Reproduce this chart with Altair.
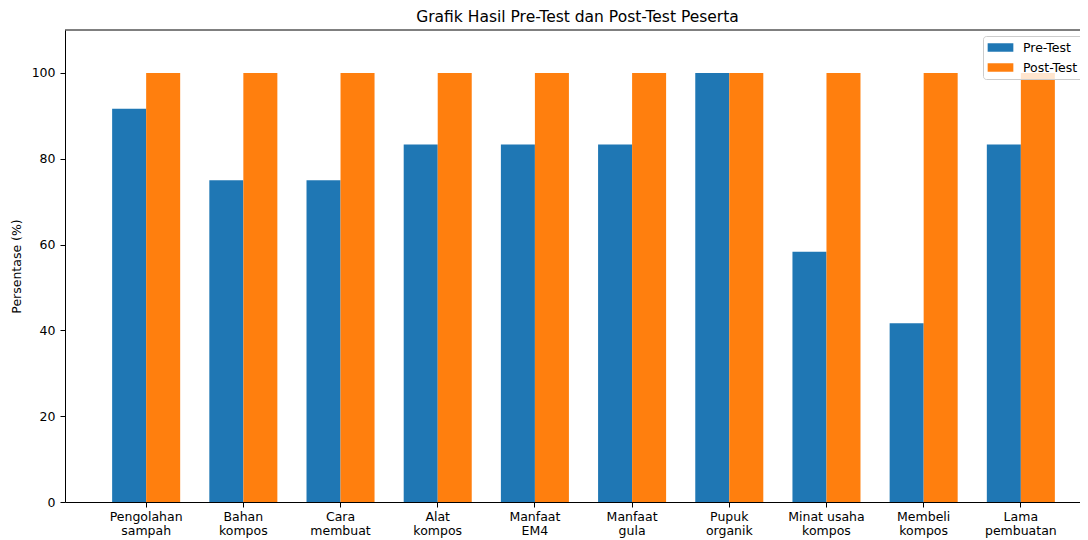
import altair as alt
import pandas as pd

categories = ["Pengolahan\nsampah", "Bahan\nkompos", "Cara\nmembuat", "Alat\nkompos",
              "Manfaat\nEM4", "Manfaat\ngula", "Pupuk\norganik", "Minat usaha\nkompos",
              "Membeli\nkompos", "Lama\npembuatan"]
pre_test = [91.67, 75.0, 75.0, 83.33, 83.33, 83.33, 100.0, 58.33, 41.67, 83.33]
post_test = [100.0, 100.0, 100.0, 100.0, 100.0, 100.0, 100.0, 100.0, 100.0, 100.0]
series = ["Pre-Test", "Post-Test"]
colors = ["#1f77b4", "#ff7f0e"]
y_ticks = [0, 20, 40, 60, 80, 100]

rows = []
for c, a, b in zip(categories, pre_test, post_test):
    rows.append({"Kategori": c, "Tes": series[0], "Nilai": a})
    rows.append({"Kategori": c, "Tes": series[1], "Nilai": b})
df = pd.DataFrame(rows)

W = 1015
H = 472
FONT = "DejaVu Sans"

bars = alt.Chart(df).mark_bar().encode(
    x=alt.X("Kategori:N", sort=categories,
            scale=alt.Scale(range=[0, 1037], paddingInner=0.3, paddingOuter=0.485),
            axis=alt.Axis(title=None, labelAngle=0, labelExpr="split(datum.label, '\\n')",
                          domainColor="black", tickColor="black", tickSize=5,
                          labelColor="black", labelFontSize=12.5, labelFont=FONT,
                          labelPadding=3, labelLineHeight=14)),
    xOffset=alt.XOffset("Tes:N", sort=series,
                        scale=alt.Scale(paddingInner=0, paddingOuter=0)),
    y=alt.Y("Nilai:Q", scale=alt.Scale(domain=[0, 110], nice=False),
            axis=alt.Axis(values=y_ticks, title="Persentase (%)", grid=False,
                          domainColor="black", tickColor="black", tickSize=5,
                          labelColor="black", labelFontSize=12.5, labelFont=FONT,
                          labelPadding=5, titleFont=FONT, titleFontSize=12.5,
                          titleFontWeight="normal", titleColor="black", titlePadding=8)),
    color=alt.Color("Tes:N", sort=series,
                    scale=alt.Scale(domain=series, range=colors),
                    legend=alt.Legend(title=None, orient="none", legendX=918, legendY=6,
                                      symbolType="M-2,-0.66H2V0.66H-2Z", symbolSize=165,
                                      symbolOffset=6, symbolStrokeWidth=0,
                                      labelFont=FONT, labelFontSize=12.5, labelColor="black",
                                      labelOffset=16, rowPadding=7, padding=5,
                                      strokeColor="#cccccc", fillColor="rgba(255,255,255,0.8)",
                                      cornerRadius=3)),
)

top_spine = alt.Chart(pd.DataFrame({"s": [0]})).mark_rule(color="black", strokeWidth=1).encode(
    x=alt.value(0), x2=alt.value(W), y=alt.value(0)
)

chart = alt.layer(bars, top_spine).properties(
    width=W, height=H,
    title=alt.TitleParams("Grafik Hasil Pre-Test dan Post-Test Peserta", font=FONT,
                          fontSize=15.5, fontWeight="normal", color="black",
                          anchor="middle", dx=5, offset=4),
    autosize=alt.AutoSizeParams(type="none"),
    padding={"left": 57, "top": 22, "right": 0, "bottom": 38},
).configure_view(strokeWidth=0)

chart.save("out.html", embed_options={"renderer": "svg", "actions": False})
